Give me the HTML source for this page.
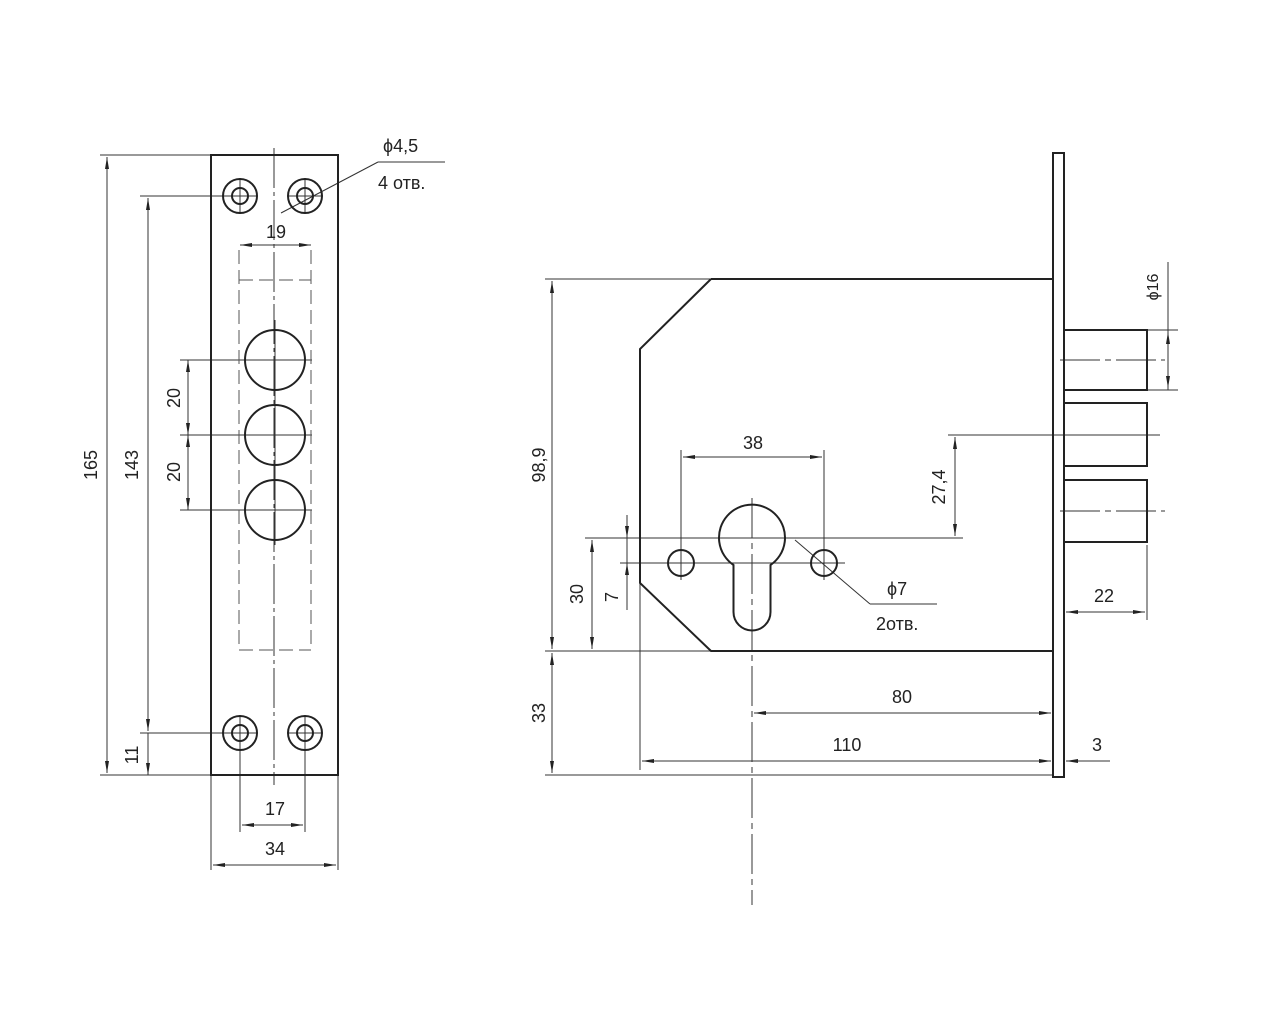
<!DOCTYPE html>
<html><head><meta charset="utf-8"><style>
html,body{margin:0;padding:0;background:#fff}
svg{display:block}
text{font-family:"Liberation Sans",sans-serif;font-size:18px;fill:#222}
</style></head><body>
<svg width="1280" height="1024" viewBox="0 0 1280 1024" xmlns="http://www.w3.org/2000/svg">
<defs>
<marker id="a" viewBox="0 0 12 6" refX="12" refY="3" markerWidth="12" markerHeight="6" orient="auto-start-reverse" markerUnits="userSpaceOnUse">
<path d="M0,1 L12,3 L0,5 Z" fill="#222"/></marker>
</defs>
<g stroke="#333" stroke-width="1" fill="none">
<line x1="100" y1="155" x2="211" y2="155"/>
<line x1="100" y1="775" x2="211" y2="775"/>
<line x1="140" y1="196" x2="225" y2="196"/>
<line x1="140" y1="733" x2="225" y2="733"/>
<line x1="180" y1="360" x2="312" y2="360"/>
<line x1="180" y1="435" x2="312" y2="435"/>
<line x1="180" y1="510" x2="312" y2="510"/>
<line x1="107" y1="157" x2="107" y2="773" marker-start="url(#a)" marker-end="url(#a)"/>
<line x1="148" y1="198" x2="148" y2="731" marker-start="url(#a)" marker-end="url(#a)"/>
<line x1="148" y1="733" x2="148" y2="775"/>
<line x1="148" y1="760" x2="148" y2="775" marker-end="url(#a)"/>
<line x1="188" y1="360" x2="188" y2="435" marker-start="url(#a)" marker-end="url(#a)"/>
<line x1="188" y1="435" x2="188" y2="510" marker-start="url(#a)" marker-end="url(#a)"/>
<line x1="211" y1="775" x2="211" y2="870"/>
<line x1="338" y1="775" x2="338" y2="870"/>
<line x1="240" y1="745" x2="240" y2="832"/>
<line x1="305" y1="745" x2="305" y2="832"/>
<line x1="242" y1="825" x2="303" y2="825" marker-start="url(#a)" marker-end="url(#a)"/>
<line x1="213" y1="865" x2="336" y2="865" marker-start="url(#a)" marker-end="url(#a)"/>
<line x1="240" y1="245" x2="311" y2="245" marker-start="url(#a)" marker-end="url(#a)"/>
<line x1="274" y1="148" x2="274" y2="785" stroke-dasharray="40,4,4,4"/>
<line x1="275" y1="320" x2="275" y2="545"/>
<line x1="240" y1="178" x2="240" y2="214"/><line x1="222" y1="196" x2="258" y2="196"/>
<line x1="305" y1="178" x2="305" y2="214"/><line x1="287" y1="196" x2="323" y2="196"/>
<line x1="240" y1="715" x2="240" y2="751"/><line x1="222" y1="733" x2="258" y2="733"/>
<line x1="305" y1="715" x2="305" y2="751"/><line x1="287" y1="733" x2="323" y2="733"/>
<line x1="445" y1="162" x2="378" y2="162"/>
<line x1="378" y1="162" x2="281" y2="213"/>
</g>
<g stroke="#222" stroke-width="2" fill="none">
<rect x="211" y="155" width="127" height="620"/>
<circle cx="240" cy="196" r="17"/><circle cx="240" cy="196" r="8"/>
<circle cx="305" cy="196" r="17"/><circle cx="305" cy="196" r="8"/>
<circle cx="240" cy="733" r="17"/><circle cx="240" cy="733" r="8"/>
<circle cx="305" cy="733" r="17"/><circle cx="305" cy="733" r="8"/>
<circle cx="275" cy="360" r="30"/><circle cx="275" cy="435" r="30"/><circle cx="275" cy="510" r="30"/>
</g>
<g stroke="#555" stroke-width="1" fill="none" stroke-dasharray="14,6">
<line x1="239" y1="250" x2="239" y2="650"/>
<line x1="311" y1="250" x2="311" y2="650"/>
<line x1="239" y1="650" x2="311" y2="650"/>
<line x1="239" y1="280" x2="311" y2="280"/>
</g>
<text x="276" y="238" text-anchor="middle">19</text>
<text x="383" y="152">ϕ4,5</text>
<text x="378" y="189">4 отв.</text>
<text x="275" y="815" text-anchor="middle">17</text>
<text x="275" y="855" text-anchor="middle">34</text>
<text transform="translate(97,465) rotate(-90)" text-anchor="middle">165</text>
<text transform="translate(138,465) rotate(-90)" text-anchor="middle">143</text>
<text transform="translate(180,398) rotate(-90)" text-anchor="middle">20</text>
<text transform="translate(180,472) rotate(-90)" text-anchor="middle">20</text>
<text transform="translate(138,755) rotate(-90)" text-anchor="middle">11</text>

<g stroke="#333" stroke-width="1" fill="none">
<line x1="545" y1="279" x2="711" y2="279"/>
<line x1="545" y1="651" x2="711" y2="651"/>
<line x1="545" y1="775" x2="1053" y2="775"/>
<line x1="552" y1="281" x2="552" y2="649" marker-start="url(#a)" marker-end="url(#a)"/>
<line x1="552" y1="653" x2="552" y2="773" marker-start="url(#a)" marker-end="url(#a)"/>
<line x1="585" y1="538" x2="963" y2="538"/>
<line x1="592" y1="540" x2="592" y2="649" marker-start="url(#a)" marker-end="url(#a)"/>
<line x1="620" y1="563" x2="845" y2="563"/>
<line x1="627" y1="515" x2="627" y2="538" marker-end="url(#a)"/>
<line x1="627" y1="610" x2="627" y2="563" marker-end="url(#a)"/>
<line x1="627" y1="538" x2="627" y2="563"/>
<line x1="681" y1="450" x2="681" y2="580"/>
<line x1="824" y1="450" x2="824" y2="580"/>
<line x1="683" y1="457" x2="822" y2="457" marker-start="url(#a)" marker-end="url(#a)"/>
<line x1="752" y1="498" x2="752" y2="905" stroke-dasharray="40,5,6,5"/>
<line x1="640" y1="583" x2="640" y2="770"/>
<line x1="754" y1="713" x2="1051" y2="713" marker-start="url(#a)" marker-end="url(#a)"/>
<line x1="642" y1="761" x2="1051" y2="761" marker-start="url(#a)" marker-end="url(#a)"/>
<line x1="1110" y1="761" x2="1066" y2="761" marker-end="url(#a)"/>
<line x1="948" y1="435" x2="1160" y2="435"/>
<line x1="955" y1="437" x2="955" y2="536" marker-start="url(#a)" marker-end="url(#a)"/>
<line x1="1060" y1="360" x2="1165" y2="360" stroke-dasharray="40,5,6,5"/>
<line x1="1060" y1="511" x2="1165" y2="511" stroke-dasharray="40,5,6,5"/>
<line x1="1147" y1="330" x2="1178" y2="330"/>
<line x1="1147" y1="390" x2="1178" y2="390"/>
<line x1="1168" y1="262" x2="1168" y2="390"/>
<line x1="1168" y1="345" x2="1168" y2="332" marker-end="url(#a)"/>
<line x1="1168" y1="375" x2="1168" y2="388" marker-end="url(#a)"/>
<line x1="1147" y1="545" x2="1147" y2="620"/>
<line x1="1066" y1="612" x2="1145" y2="612" marker-start="url(#a)" marker-end="url(#a)"/>
<line x1="795" y1="540" x2="870" y2="604"/>
<line x1="870" y1="604" x2="937" y2="604"/>
<line x1="666" y1="563" x2="696" y2="563"/>
<line x1="809" y1="563" x2="839" y2="563"/>
</g>
<g stroke="#222" stroke-width="2" fill="none">
<path d="M711,279 L1053,279 M1053,651 L711,651 L640,583 L640,349 L711,279"/>
<rect x="1053" y="153" width="11" height="624"/>
<rect x="1064" y="330" width="83" height="60"/>
<rect x="1064" y="403" width="83" height="63"/>
<rect x="1064" y="480" width="83" height="62"/>
<path d="M733.5,565 A33,33 0 1,1 770.5,565 L770.5,612 A18.5,18.5 0 0,1 733.5,612 Z"/>
<circle cx="681" cy="563" r="13"/>
<circle cx="824" cy="563" r="13"/>
</g>
<text x="753" y="449" text-anchor="middle">38</text>
<text x="902" y="703" text-anchor="middle">80</text>
<text x="847" y="751" text-anchor="middle">110</text>
<text x="1097" y="751" text-anchor="middle">3</text>
<text x="1104" y="602" text-anchor="middle">22</text>
<text x="887" y="595">ϕ7</text>
<text x="876" y="630">2отв.</text>
<text transform="translate(545,465) rotate(-90)" text-anchor="middle">98,9</text>
<text transform="translate(583,594) rotate(-90)" text-anchor="middle">30</text>
<text transform="translate(618,597) rotate(-90)" text-anchor="middle">7</text>
<text transform="translate(545,713) rotate(-90)" text-anchor="middle">33</text>
<text transform="translate(945,487) rotate(-90)" text-anchor="middle">27,4</text>
<text transform="translate(1158,287) rotate(-90)" text-anchor="middle" style="font-size:16px">ϕ16</text>
</svg>
</body></html>
